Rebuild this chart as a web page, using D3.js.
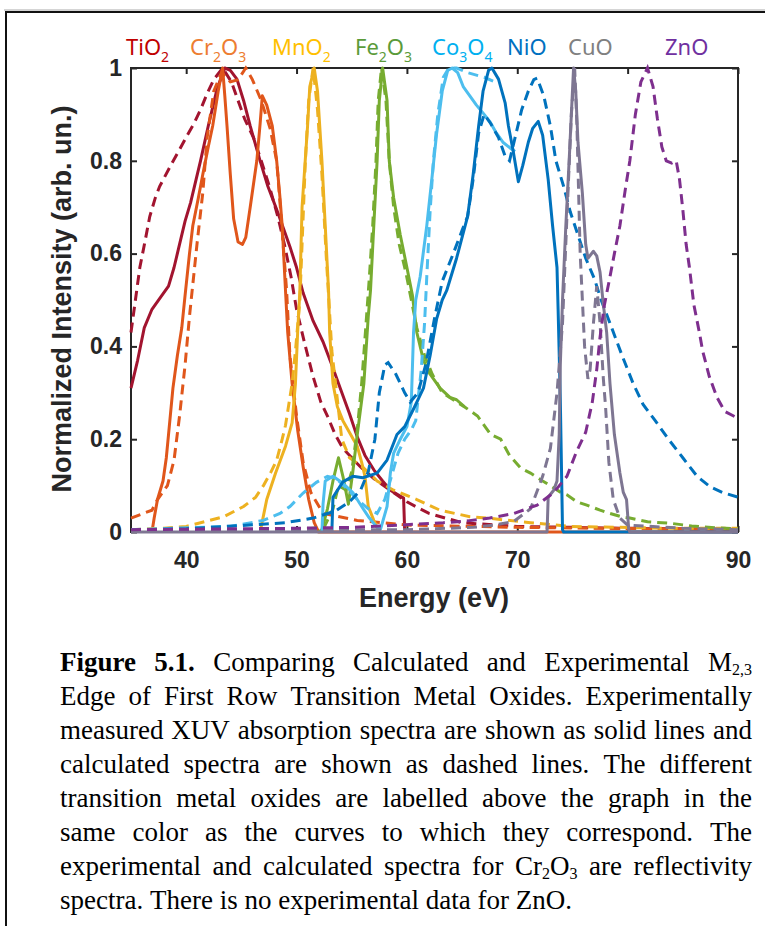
<!DOCTYPE html>
<html>
<head>
<meta charset="utf-8">
<script src="https://cdn.jsdelivr.net/npm/d3@7"></script>
<style>
  body { margin: 0; background: #fff; }
  svg { display: block; }
</style>
</head>
<body>
<svg id="fig" width="765" height="926"></svg>
<script>
// ---- data ----
const oxides = ["TiO_2", "Cr_2O_3", "MnO_2", "Fe_2O_3", "Co_3O_4", "NiO", "CuO", "ZnO"];

const xTicks = [40, 50, 60, 70, 80, 90];
const yTicks = [0, 0.2, 0.4, 0.6, 0.8, 1];

// [energy eV, normalized intensity]
const tio2Exp = [[35,0.31],[35.6,0.37],[36.2,0.44],[36.9,0.48],[37.8,0.51],[38.4,0.53],[38.9,0.57],[39.3,0.61],[39.9,0.67],[40.4,0.71],[40.9,0.76],[41.3,0.80],[42.0,0.875],[42.8,0.955],[43.5,1.0],[44.0,0.995],[44.6,0.976],[45.2,0.93],[45.8,0.875],[46.7,0.80],[47.4,0.745],[48.2,0.695],[48.8,0.655],[49.4,0.615],[50.0,0.57],[50.6,0.515],[51.5,0.455],[52.4,0.41],[53.2,0.36],[54.0,0.307],[54.8,0.255],[55.5,0.205],[56.2,0.165],[57.0,0.134],[57.8,0.11],[58.5,0.09],[59.2,0.08],[59.7,0.073],[59.8,0.0]];
const tio2Calc = [[35,0.43],[35.4,0.5],[35.8,0.57],[36.3,0.63],[36.7,0.68],[37.2,0.72],[37.6,0.745],[38.6,0.79],[39.3,0.82],[40.1,0.855],[40.7,0.88],[41.3,0.91],[41.9,0.945],[42.5,0.975],[43.3,1.0],[44.1,0.97],[44.7,0.93],[45.3,0.89],[46.1,0.85],[46.8,0.8],[47.6,0.74],[48.3,0.68],[48.9,0.62],[49.5,0.55],[50.0,0.48],[50.7,0.41],[51.5,0.335],[52.2,0.28],[52.8,0.25],[53.5,0.21],[54.2,0.18],[55.0,0.16],[55.8,0.14],[57,0.115],[58.5,0.09],[60,0.065],[62,0.04],[65,0.02],[70,0.012],[80,0.008],[90,0.006]];

const cr2o3Exp = [[36.9,0],[37.1,0.03],[37.4,0.07],[37.9,0.11],[38.2,0.16],[38.4,0.21],[38.8,0.31],[39.2,0.38],[39.6,0.44],[39.9,0.51],[40.3,0.6],[40.6,0.66],[41.1,0.72],[41.5,0.77],[42.0,0.83],[42.4,0.875],[42.9,0.95],[43.3,1.0],[43.5,0.94],[43.7,0.875],[44.0,0.77],[44.3,0.675],[44.7,0.625],[45.1,0.62],[45.4,0.635],[45.8,0.70],[46.1,0.75],[46.4,0.80],[46.7,0.88],[46.9,0.94],[47.3,0.92],[47.8,0.875],[48.2,0.80],[48.5,0.72],[48.7,0.66],[49.0,0.52],[49.2,0.43],[49.6,0.32],[50.1,0.22],[50.6,0.14],[51.1,0.07],[51.6,0.02],[52,0],[90,0]];
const cr2o3Calc = [[35,0.03],[36.9,0.047],[37.4,0.07],[38.3,0.1],[38.9,0.155],[39.4,0.25],[39.9,0.36],[40.3,0.465],[41.0,0.625],[41.5,0.73],[41.9,0.85],[42.5,0.95],[43.2,0.99],[44.0,0.97],[44.7,0.975],[45.4,1.0],[46.0,0.975],[46.8,0.93],[47.6,0.87],[48.2,0.8],[48.6,0.68],[49.1,0.52],[49.4,0.38],[50.0,0.25],[50.6,0.15],[51.3,0.085],[52.4,0.04],[55.5,0.025],[60,0.015],[70,0.01],[90,0.005]];

const mno2Exp = [[46.7,0],[47.3,0.07],[48.1,0.127],[49.0,0.185],[49.6,0.235],[49.9,0.32],[50.1,0.43],[50.3,0.52],[50.5,0.7],[51.0,0.875],[51.2,0.96],[51.6,1.0],[51.9,0.95],[52.3,0.80],[52.6,0.66],[52.9,0.52],[53.0,0.43],[53.3,0.32],[53.7,0.27],[54.2,0.24],[55.5,0.185],[55.9,0.15],[56.2,0.12],[56.5,0.055],[57.0,0.025],[57.4,0.005],[57.6,0]];
const mno2Calc = [[35,0.005],[38,0.008],[40,0.012],[41.3,0.02],[43.4,0.033],[45.2,0.055],[46.3,0.075],[47.0,0.1],[47.7,0.13],[48.2,0.155],[48.7,0.2],[49.0,0.23],[49.6,0.32],[49.9,0.39],[50.3,0.5],[50.5,0.62],[50.8,0.8],[51.1,0.93],[51.5,1.0],[51.9,0.91],[52.3,0.77],[52.7,0.59],[53.0,0.47],[53.2,0.39],[53.7,0.285],[54.1,0.2],[54.8,0.16],[56.0,0.14],[57.3,0.11],[58.8,0.09],[60.9,0.07],[63.0,0.047],[65.7,0.033],[67.3,0.03],[71.2,0.02],[74.8,0.012],[83.8,0.008],[90,0.008]];

const fe2o3Exp = [[52.0,0],[52.3,0.005],[52.8,0.05],[53.3,0.11],[53.8,0.16],[54.2,0.12],[54.7,0.06],[55.1,0.13],[55.5,0.21],[56.1,0.32],[56.5,0.465],[56.7,0.52],[57.0,0.66],[57.3,0.80],[57.5,0.93],[57.8,1.0],[58.2,0.93],[58.4,0.80],[58.8,0.72],[59.4,0.64],[60.0,0.57],[60.5,0.51],[60.9,0.43],[61.5,0.37],[62.1,0.34],[63.0,0.31],[63.9,0.29],[64.5,0.285],[65.2,0.27]];
const fe2o3Calc = [[35,0.003],[50,0.005],[52.5,0.01],[53.3,0.05],[53.8,0.1],[54.5,0.09],[55.0,0.13],[55.5,0.22],[55.9,0.32],[56.3,0.45],[56.6,0.55],[56.9,0.66],[57.2,0.8],[57.4,0.93],[57.7,1.0],[58.1,0.93],[58.4,0.8],[58.8,0.7],[59.3,0.62],[59.9,0.56],[60.4,0.5],[60.9,0.44],[61.6,0.38],[62.3,0.34],[63.2,0.3],[64.2,0.285],[65.2,0.27],[66.4,0.25],[67.0,0.23],[67.6,0.21],[68.5,0.2],[69.3,0.165],[70.3,0.138],[71.2,0.127],[72.3,0.11],[73.0,0.1],[73.9,0.086],[74.5,0.08],[75.4,0.065],[76.3,0.058],[77.5,0.047],[78.4,0.04],[79.6,0.032],[80.2,0.03],[81.8,0.022],[83.8,0.019],[85.8,0.013],[88.1,0.009],[90,0.007]];

const co3o4Exp = [[52.3,0],[52.4,0.06],[52.6,0.11],[53.3,0.12],[54.2,0.105],[55.1,0.085],[55.9,0.055],[56.6,0.03],[57.3,0.01],[57.6,0.005],[58.2,0.055],[58.5,0.127],[58.8,0.17],[59.4,0.2],[60.0,0.227],[60.4,0.28],[60.6,0.43],[60.8,0.5],[61.2,0.55],[61.8,0.66],[62.3,0.77],[62.7,0.86],[63.2,0.95],[63.7,0.995],[64.1,1.0],[64.6,0.99],[65.1,0.96],[65.7,0.94],[66.3,0.92],[67.0,0.9],[67.5,0.885],[68.1,0.86],[68.7,0.84],[69.5,0.825],[69.8,0.82]];
const co3o4Calc = [[35,0.005],[44,0.012],[47,0.025],[48.5,0.04],[49.4,0.055],[50.6,0.084],[51.8,0.107],[52.8,0.12],[53.6,0.115],[54.5,0.095],[55.5,0.07],[56.5,0.05],[57.3,0.04],[58,0.07],[58.6,0.12],[59.2,0.17],[59.8,0.2],[60.4,0.22],[60.8,0.24],[61.3,0.35],[61.6,0.45],[61.8,0.55],[62.1,0.69],[62.4,0.8],[62.8,0.9],[63.3,0.98],[63.8,1.0],[64.5,1.0],[65.5,0.99],[67,0.98],[68,0.97]];

const nioExp = [[53.2,0],[53.3,0.075],[54.2,0.108],[55.1,0.12],[56.0,0.117],[57.3,0.127],[58.2,0.155],[59.1,0.21],[59.8,0.227],[60.7,0.27],[61.5,0.31],[62.1,0.38],[62.7,0.46],[63.2,0.5],[63.6,0.52],[64.5,0.59],[65.5,0.68],[66.0,0.77],[66.5,0.875],[66.9,0.95],[67.4,0.995],[67.7,1.0],[68.3,0.976],[68.9,0.925],[69.2,0.875],[69.6,0.825],[70.1,0.755],[70.5,0.79],[71.0,0.84],[71.4,0.87],[71.9,0.885],[72.3,0.855],[72.8,0.76],[73.2,0.66],[73.6,0.57],[73.7,0.48],[73.9,0.285],[74.1,0.005],[74.2,0],[90,0]];
const nioCalc = [[35,0.004],[40,0.007],[45,0.014],[49,0.02],[51.5,0.03],[53.5,0.045],[54.8,0.065],[55.8,0.09],[56.5,0.13],[57.1,0.2],[57.5,0.3],[58.0,0.36],[58.3,0.365],[59.0,0.34],[59.8,0.3],[60.3,0.28],[61.0,0.3],[61.7,0.36],[62.5,0.46],[63.2,0.54],[64.2,0.6],[65.0,0.65],[65.5,0.68],[66.0,0.76],[66.5,0.86],[67.0,0.9],[67.6,0.88],[68.3,0.85],[68.9,0.81],[69.3,0.8],[69.8,0.85],[70.4,0.91],[71.0,0.95],[71.5,0.975],[71.8,0.978],[72.4,0.94],[73.0,0.875],[73.5,0.8],[74.2,0.745],[74.8,0.69],[75.5,0.64],[76.2,0.59],[77.0,0.545],[77.6,0.5],[78.4,0.45],[79.5,0.38],[80.5,0.32],[81.4,0.275],[82.5,0.24],[83.7,0.2],[85.0,0.16],[86.3,0.12],[87.5,0.097],[88.6,0.085],[90,0.075]];

const cuoExp = [[35,0],[72.7,0],[72.8,0.075],[73.3,0.09],[73.6,0.11],[73.8,0.21],[73.9,0.36],[74.1,0.5],[74.4,0.66],[74.7,0.80],[75.0,0.95],[75.1,1.0],[75.3,0.95],[75.5,0.84],[75.9,0.73],[76.2,0.62],[76.4,0.59],[76.9,0.605],[77.2,0.595],[77.5,0.56],[77.8,0.49],[78.1,0.43],[78.4,0.32],[78.8,0.21],[79.3,0.127],[79.6,0.086],[79.9,0.07],[80.1,0.005],[80.2,0],[90,0]];
const cuoCalc = [[35,0.003],[60,0.005],[66,0.01],[68,0.015],[69.7,0.023],[71.2,0.05],[72.3,0.12],[73.0,0.18],[73.6,0.3],[74.1,0.45],[74.5,0.68],[74.9,0.9],[75.2,1.0],[75.4,0.88],[75.7,0.6],[75.9,0.5],[76.1,0.4],[76.4,0.33],[76.6,0.35],[76.9,0.45],[77.2,0.53],[77.5,0.45],[77.8,0.33],[78.0,0.27],[78.3,0.15],[78.7,0.07],[79.3,0.03],[80,0.015],[85,0.008],[90,0.005]];

const znoCalc = [[35,0.005],[45,0.007],[50,0.008],[55,0.01],[59.4,0.015],[63.3,0.02],[65.5,0.024],[67.5,0.03],[69.7,0.04],[71.8,0.058],[73.3,0.085],[74.5,0.12],[75.4,0.175],[76.2,0.215],[76.8,0.28],[77.2,0.35],[77.5,0.42],[77.9,0.49],[78.4,0.55],[78.8,0.6],[79.3,0.66],[79.8,0.74],[80.2,0.8],[80.7,0.9],[81.2,0.97],[81.8,1.0],[82.3,0.96],[82.7,0.89],[83.1,0.83],[83.5,0.8],[84.0,0.795],[84.4,0.8],[84.7,0.76],[85.0,0.695],[85.3,0.62],[85.6,0.57],[86.0,0.49],[86.5,0.43],[86.8,0.39],[87.4,0.335],[88.1,0.29],[88.8,0.26],[89.6,0.25],[90,0.245]];

const expSpectra  = [tio2Exp, cr2o3Exp, mno2Exp, fe2o3Exp, co3o4Exp, nioExp, cuoExp, null];
const calcSpectra = [tio2Calc, cr2o3Calc, mno2Calc, fe2o3Calc, co3o4Calc, nioCalc, cuoCalc, znoCalc];

const captionLines = [
  "**Figure 5.1.** Comparing Calculated and Experimental M_{2,3}",
  "Edge of First Row Transition Metal Oxides. Experimentally",
  "measured XUV absorption spectra are shown as solid lines and",
  "calculated spectra are shown as dashed lines. The different",
  "transition metal oxides are labelled above the graph in the",
  "same color as the curves to which they correspond. The",
  "experimental and calculated spectra for Cr_2O_3 are reflectivity",
  "spectra. There is no experimental data for ZnO."
];

// ---- styles / layout ----
const lineColors  = ["#a2142f", "#e0561b", "#edb120", "#77ac30", "#4dbeee", "#0072bd", "#7e7692", "#7e2f8e"];
const labelColors = ["#c00000", "#ed7d31", "#ffc000", "#5b9b3a", "#00b0f0", "#0070c0", "#808080", "#7030a0"];
const labelX = [126, 190, 272, 355, 432, 507, 568, 665];

const svg = d3.select("#fig");
const sans = "'Liberation Sans', Arial, sans-serif";

const x = d3.scaleLinear().domain([35, 90]).range([131, 738]);
const y = d3.scaleLinear().domain([0, 1]).range([532, 68]);

// outer frame of the page
svg.append("line").attr("x1", 4).attr("x2", 765).attr("y1", 10).attr("y2", 10)
  .attr("stroke", "#aaa").attr("stroke-width", 1);
svg.append("line").attr("x1", 5).attr("x2", 765).attr("y1", 12).attr("y2", 12)
  .attr("stroke", "#111").attr("stroke-width", 2);
svg.append("line").attr("x1", 6).attr("x2", 6).attr("y1", 11).attr("y2", 926)
  .attr("stroke", "#111").attr("stroke-width", 2);

// subscript helper: "Cr_2O_3", "M_{2,3}"
function addRich(sel, str, subSize, subShift) {
  const re = /_\{([^}]*)\}|_(.)/g;
  const parts = [];
  let last = 0, m;
  while ((m = re.exec(str))) {
    if (m.index > last) parts.push({ t: str.slice(last, m.index), sub: false });
    parts.push({ t: m[1] || m[2], sub: true });
    last = re.lastIndex;
  }
  if (last < str.length) parts.push({ t: str.slice(last), sub: false });
  let down = false;
  parts.forEach(p => {
    const ts = sel.append("tspan").text(p.t);
    if (p.sub) {
      ts.style("font-size", subSize + "px");
      if (!down) { ts.attr("dy", subShift); down = true; }
    } else if (down) {
      ts.attr("dy", -subShift); down = false;
    }
  });
}

// axes
const axG = svg.append("g");
axG.append("g").attr("transform", "translate(0,532)")
  .call(d3.axisBottom(x).tickValues(xTicks).tickSizeInner(-6).tickSizeOuter(0).tickPadding(20));
axG.append("g").attr("transform", "translate(131,0)")
  .call(d3.axisLeft(y).tickValues(yTicks).tickSizeInner(-6).tickSizeOuter(0).tickPadding(9)
    .tickFormat(d3.format("~g")));
axG.append("g").attr("transform", "translate(0,68)")
  .call(d3.axisTop(x).tickValues(xTicks).tickSizeInner(-6).tickSizeOuter(0).tickFormat(""));
axG.append("g").attr("transform", "translate(738,0)")
  .call(d3.axisRight(y).tickValues(yTicks).tickSizeInner(-6).tickSizeOuter(0).tickFormat(""));
axG.selectAll(".domain").remove();
axG.selectAll(".tick line").attr("stroke", "#262626").attr("stroke-width", 2);
axG.selectAll(".tick text")
  .style("font-family", sans).style("font-size", "23px").style("font-weight", "bold")
  .attr("fill", "#262626");
axG.append("rect").attr("x", 131).attr("y", 68).attr("width", 607).attr("height", 464)
  .attr("fill", "none").attr("stroke", "#262626").attr("stroke-width", 2);

// axis titles
svg.append("text").attr("x", 434).attr("y", 607).attr("text-anchor", "middle")
  .style("font-family", sans).style("font-size", "27px").style("font-weight", "bold")
  .attr("fill", "#262626").text("Energy (eV)");
svg.append("text").attr("transform", "translate(71,299) rotate(-90)").attr("text-anchor", "middle")
  .style("font-family", sans).style("font-size", "27px").style("font-weight", "bold")
  .attr("fill", "#262626").text("Normalized Intensity (arb. un.)");

// spectra
svg.append("clipPath").attr("id", "plotClip").append("rect")
  .attr("x", 129).attr("y", 64).attr("width", 611).attr("height", 472);
const plot = svg.append("g").attr("clip-path", "url(#plotClip)");
const line = d3.line().x(d => x(d[0])).y(d => y(d[1]));

oxides.forEach((name, i) => {
  if (expSpectra[i]) {
    plot.append("path").datum(expSpectra[i])
      .attr("fill", "none").attr("stroke", lineColors[i]).attr("stroke-width", 3)
      .attr("stroke-linejoin", "round").attr("d", line);
  }
  plot.append("path").datum(calcSpectra[i])
    .attr("fill", "none").attr("stroke", lineColors[i]).attr("stroke-width", 3)
    .attr("stroke-dasharray", "10,6").attr("d", line);
});

// oxide labels above the graph
oxides.forEach((name, i) => {
  const t = svg.append("text").attr("x", labelX[i]).attr("y", 55)
    .style("font-family", "'Noto Sans', sans-serif").style("font-size", "22px")
    .attr("fill", labelColors[i]);
  addRich(t, name, 14, 7);
});

// caption, justified; glyphs slightly tall as in the scanned original
const capLeft = 60, capRight = 752, capTop = 671, capLead = 34, capSize = 27;
const cap = svg.append("g").style("font-family", "'Liberation Serif', 'Times New Roman', serif")
  .style("font-size", capSize + "px").attr("fill", "#000");
let bold = false;
captionLines.forEach((ln, i) => {
  const words = ln.split(" ");
  const yy = capTop + i * capLead;
  const nodes = words.map(w => {
    let isBold = bold;
    if (w.startsWith("**")) { isBold = true; bold = true; }
    if (w.endsWith("**")) { bold = false; }
    const t = cap.append("text").style("font-weight", isBold ? "bold" : "normal");
    addRich(t, w.replace(/\*\*/g, ""), 16, 4);
    return t;
  });
  const widths = nodes.map(n => n.node().getComputedTextLength());
  const gap = i < captionLines.length - 1
    ? (capRight - capLeft - d3.sum(widths)) / (words.length - 1)
    : capSize * 0.25;
  let xx = capLeft;
  nodes.forEach((n, j) => {
    n.attr("transform", `translate(${xx},${yy}) scale(1,1.05)`);
    xx += widths[j] + gap;
  });
});
</script>
</body>
</html>
